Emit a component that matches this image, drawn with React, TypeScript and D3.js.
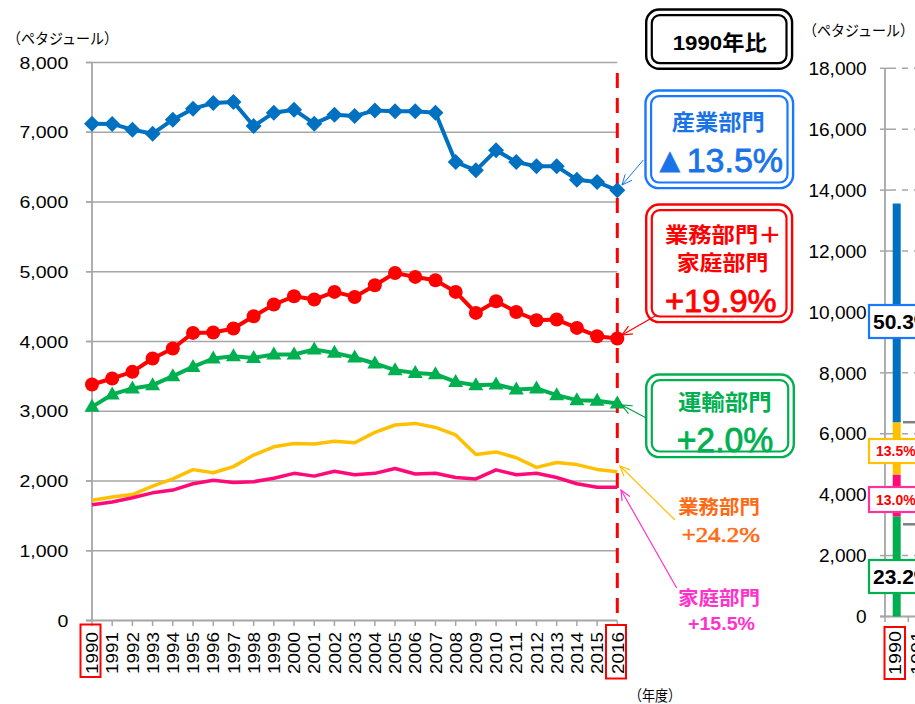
import React from 'react';
import * as d3 from 'd3';

const years = ["1990","1991","1992","1993","1994","1995","1996","1997","1998","1999","2000","2001","2002","2003","2004","2005","2006","2007","2008","2009","2010","2011","2012","2013","2014","2015","2016"];
const industry = [7123,7120,7037,6980,7180,7338,7418,7433,7089,7281,7324,7123,7252,7232,7313,7300,7300,7281,6573,6454,6741,6573,6511,6511,6320,6287,6168];
const bizHome = [3384,3470,3565,3756,3900,4123,4129,4186,4362,4530,4649,4602,4711,4639,4807,4983,4926,4878,4711,4410,4577,4424,4305,4315,4195,4076,4043];
const transport = [3063,3241,3327,3374,3503,3636,3756,3789,3765,3814,3814,3885,3837,3771,3685,3589,3550,3532,3421,3374,3384,3312,3327,3231,3159,3149,3112];
const business = [1724,1770,1805,1926,2030,2163,2119,2206,2372,2490,2539,2532,2571,2549,2697,2803,2826,2768,2661,2380,2417,2334,2195,2265,2235,2166,2133];
const household = [1660,1700,1760,1830,1870,1960,2010,1980,1990,2040,2110,2070,2140,2090,2110,2180,2100,2110,2050,2030,2160,2090,2110,2050,1960,1910,1910];
const leftTicks = [0,1000,2000,3000,4000,5000,6000,7000,8000];
const rightTicks = [0,2000,4000,6000,8000,10000,12000,14000,16000,18000];
const stackNames = ["運輸部門","家庭部門","業務部門","産業部門"];
const stack1990 = [3290,1370,1720,7180];
const stackShares = ["23.2%","13.0%","13.5%","50.3%"];
const rightYears = ["1990","1991"];

const SANS = "'Liberation Sans', Arial, 'Noto Sans CJK JP', sans-serif";
const JP = "'Noto Sans CJK JP', 'Liberation Sans', sans-serif";
const SERIF = "'Liberation Serif', 'Times New Roman', serif";

const C = {
  blue: '#0070c0', red: '#ff0000', green: '#00b050', yellow: '#ffc000', pink: '#ff0a78',
  grid: '#a6a6a6', blueText: '#1a73e8', blueBorder: '#1a78ff', orange: '#ff6a13', pinkText: '#ff33cc'
};

function Arrow({ x1, y1, x2, y2, color, w = 1.2 }: any) {
  const a = Math.atan2(y1 - y2, x1 - x2);
  const L = 11, s = 0.42;
  const b1 = [x2 + L * Math.cos(a + s), y2 + L * Math.sin(a + s)];
  const b2 = [x2 + L * Math.cos(a - s), y2 + L * Math.sin(a - s)];
  return (
    <g stroke={color} strokeWidth={w} fill="none">
      <line x1={x1} y1={y1} x2={x2} y2={y2} />
      <polyline points={`${b1[0]},${b1[1]} ${x2},${y2} ${b2[0]},${b2[1]}`} />
    </g>
  );
}

function DoubleBox({ x0, y0, x1, y1, color }: any) {
  return (
    <g fill="none" stroke={color}>
      <rect x={x0 + 1.2} y={y0 + 1.2} width={x1 - x0 - 2.4} height={y1 - y0 - 2.4} rx={13} strokeWidth={2.4} fill="#fff" />
      <rect x={x0 + 6.8} y={y0 + 6.8} width={x1 - x0 - 13.6} height={y1 - y0 - 13.6} rx={8} strokeWidth={2.2} />
    </g>
  );
}

function Txt({ x, y, text, size, fill = '#000', weight = 'normal', family = JP, len, anchor = 'middle', thick = 0 }: any) {
  return (
    <text x={x} y={y} fontSize={size} fill={fill} fontWeight={weight} fontFamily={family} textAnchor={anchor}
      {...(thick ? { stroke: fill, strokeWidth: thick } : {})}
      {...(len ? { textLength: len, lengthAdjust: 'spacingAndGlyphs' } : {})}>{text}</text>
  );
}

export default function App() {
  const W = 915, H = 704;
  const x = d3.scalePoint<string>().domain(years).range([92, 617.3]);
  const y = d3.scaleLinear().domain([0, 8000]).range([620.5, 62.5]);
  const yR = d3.scaleLinear().domain([0, 18000]).range([616.5, 68.3]);
  const mk = (vals: number[]) => d3.line<number>().x((_, i) => x(years[i])!).y(d => y(d))(vals)!;

  const diamond = (cx: number, cy: number) => `M${cx},${cy - 8}L${cx + 8},${cy}L${cx},${cy + 8}L${cx - 8},${cy}Z`;
  const tri = (cx: number, cy: number) => `M${cx},${cy - 8}L${cx + 7.5},${cy + 5}L${cx - 7.5},${cy + 5}Z`;

  const cum = d3.cumsum(stack1990);
  const stackColors = [C.green, C.pink, C.yellow, C.blue];
  const barX = 892.7, barW = 8;

  const shareBoxes = [
    { y0: 560, y1: 593, border: C.green, color: '#000', size: 21, pad: 4 },
    { y0: 487, y1: 512, border: '#ff3399', color: C.red, size: 14, pad: 7 },
    { y0: 439, y1: 463, border: C.yellow, color: C.red, size: 14, pad: 7 },
    { y0: 305, y1: 338, border: C.blueBorder, color: '#000', size: 21, pad: 4 },
  ];

  return (
    <svg width={W} height={H} style={{ position: 'absolute', left: 0, top: 0, background: '#fff' }}>
      <rect x={0} y={0} width={W} height={H} fill="#fff" />
      {/* left axis title */}
      <Txt x={7} y={44} text="（ペタジュール）" size={15} anchor="start" len={111} />

      {/* left gridlines */}
      {leftTicks.map(t => (
        <g key={t}>
          {t > 0 && <line x1={86} x2={617.3} y1={y(t)} y2={y(t)} stroke={C.grid} strokeWidth={1.5} />}
          <line x1={86} x2={92} y1={y(t)} y2={y(t)} stroke={C.grid} strokeWidth={1.5} />
          <text transform={`translate(68.3,${y(t) + 6}) scale(1.22,1)`} textAnchor="end" fontSize={16} fontFamily={SANS} fill="#000">{d3.format(',')(t)}</text>
        </g>
      ))}
      <line x1={92} x2={92} y1={62.5} y2={620.5} stroke={C.grid} strokeWidth={1.8} />
      <line x1={86} x2={617.3} y1={620.5} y2={620.5} stroke={C.grid} strokeWidth={1.8} />
      {years.map(yr => (
        <g key={yr}>
          <line x1={x(yr)!} x2={x(yr)!} y1={620.5} y2={626} stroke={C.grid} strokeWidth={1.5} />
          <text transform={`translate(${x(yr)! + 6.2},632) rotate(-90)`} textAnchor="end" fontSize={17} fontFamily={SANS}
            textLength={42} lengthAdjust="spacingAndGlyphs">{yr}</text>
        </g>
      ))}
      <rect x={80.5} y={624.5} width={20} height={52.5} fill="none" stroke={C.red} strokeWidth={2} />
      <rect x={606} y={625} width={20} height={53.5} fill="none" stroke={C.red} strokeWidth={2} />
      <Txt x={629} y={701} text="（年度）" size={15} anchor="start" len={52} />

      {/* dashed reference line */}
      <line x1={617.3} x2={617.3} y1={73} y2={620.5} stroke={C.red} strokeWidth={3} strokeDasharray="15 10" />

      {/* series */}
      <path d={mk(business)} fill="none" stroke={C.yellow} strokeWidth={3.5} strokeLinejoin="round" />
      <path d={mk(household)} fill="none" stroke={C.pink} strokeWidth={3.5} strokeLinejoin="round" />
      <path d={mk(transport)} fill="none" stroke={C.green} strokeWidth={4} strokeLinejoin="round" />
      {transport.map((v, i) => <path key={i} d={tri(x(years[i])!, y(v))} fill={C.green} />)}
      <path d={mk(bizHome)} fill="none" stroke={C.red} strokeWidth={4} strokeLinejoin="round" />
      {bizHome.map((v, i) => <circle key={i} cx={x(years[i])!} cy={y(v)} r={7} fill={C.red} />)}
      <path d={mk(industry)} fill="none" stroke={C.blue} strokeWidth={4} strokeLinejoin="round" />
      {industry.map((v, i) => <path key={i} d={diamond(x(years[i])!, y(v))} fill={C.blue} />)}

      {/* callouts */}
      <DoubleBox x0={645} y0={8.3} x1={793.3} y1={70} color="#000" />
      <Txt x={719.7} y={49.5} text="1990年比" size={21} weight="bold" family={SANS} len={94} />

      <DoubleBox x0={644.3} y0={89.3} x1={794.3} y1={189.3} color={C.blueBorder} />
      <Txt x={718.3} y={129.5} text="産業部門" size={22} weight="bold" fill={C.blueText} len={93} />
      <Txt x={718} y={171.7} text="▲13.5%" size={34} fill={C.blueText} family={SANS} len={130} thick={0.8} />
      <Arrow x1={643.3} y1={160} x2={622} y2={185} color={C.blueText} w={1} />

      <DoubleBox x0={645} y0={203.3} x1={793.3} y1={323.3} color={C.red} />
      <Txt x={723.3} y={241.8} text="業務部門＋" size={21} weight="bold" fill={C.red} len={116.7} />
      <Txt x={722.5} y={270} text="家庭部門" size={21} weight="bold" fill={C.red} len={91.7} />
      <Txt x={720.8} y={311.7} text="+19.9%" size={32} fill={C.red} family={SANS} len={111.7} thick={0.8} />
      <Arrow x1={657} y1={315} x2={622} y2={335} color={C.red} w={1.2} />

      <DoubleBox x0={645} y0={373.3} x1={795} y1={458.3} color={C.green} />
      <Txt x={724.8} y={410} text="運輸部門" size={22} weight="bold" fill={C.green} len={93.7} />
      <Txt x={725} y={451.5} text="+2.0%" size={35} fill={C.green} family={SANS} len={96.7} thick={0.8} />
      <Arrow x1={646.7} y1={418.3} x2={621.7} y2={405} color="#00a040" w={1.2} />

      <Txt x={719} y={514} text="業務部門" size={19} weight="bold" fill={C.orange} len={81.7} />
      <Txt x={720.8} y={541.7} text="+24.2%" size={22} fill={C.orange} family={SERIF} len={78.3} thick={0.6} />
      <Arrow x1={675} y1={520} x2={620} y2={466} color={C.yellow} w={1.2} />

      <Txt x={719} y={605} text="家庭部門" size={19} weight="bold" fill={C.pinkText} len={82} />
      <Txt x={721.5} y={630} text="+15.5%" size={18} weight="bold" fill={C.pinkText} family={SANS} len={67} />
      <Arrow x1={676.7} y1={588} x2={621} y2={490} color={C.pinkText} w={1.2} />

      {/* right panel */}
      <Txt x={803} y={36} text="（ペタジュール）" size={15} anchor="start" len={111} />
      {rightTicks.map(t => (
        <g key={t}>
          {t > 0 && <line x1={890} x2={915} y1={yR(t)} y2={yR(t)} stroke={C.grid} strokeWidth={1.5} strokeDasharray="6 6" />}
          <line x1={880} x2={890} y1={yR(t)} y2={yR(t)} stroke={C.grid} strokeWidth={1.5} />
          <text transform={`translate(866.7,${yR(t) + 6.7}) scale(1.06,1)`} textAnchor="end" fontSize={18} fontFamily={SANS} fill="#000">{d3.format(',')(t)}</text>
        </g>
      ))}
      <line x1={885} x2={885} y1={68.3} y2={616.5} stroke={C.grid} strokeWidth={1.8} />
      <line x1={880} x2={915} y1={616.5} y2={616.5} stroke={C.grid} strokeWidth={1.8} />
      <line x1={885} x2={885} y1={616.5} y2={622} stroke={C.grid} strokeWidth={1.5} />
      <line x1={908.3} x2={908.3} y1={616.5} y2={622} stroke={C.grid} strokeWidth={1.5} />
      {stack1990.map((v, i) => (
        <rect key={stackNames[i]} x={barX} width={barW} y={yR(cum[i])} height={yR(cum[i] - v) - yR(cum[i])} fill={stackColors[i]} />
      ))}
      <line x1={903} x2={915} y1={yR(cum[2])} y2={yR(cum[2])} stroke="#808080" strokeWidth={2.5} />
      <line x1={903} x2={915} y1={yR(cum[0]) + 8} y2={yR(cum[0]) + 8} stroke="#808080" strokeWidth={2.5} />
      {shareBoxes.map((b, i) => (
        <g key={stackShares[i]}>
          <rect x={869} y={b.y0} width={60} height={b.y1 - b.y0} fill="#fff" stroke={b.border} strokeWidth={2.2} />
          <text x={869 + b.pad} y={(b.y0 + b.y1) / 2 + b.size * 0.36} fontSize={b.size} fontWeight="bold" fill={b.color} fontFamily={SANS}>{stackShares[i]}</text>
        </g>
      ))}
      {rightYears.map((yr, i) => (
        <text key={yr} transform={`translate(${900.5 + i * 22.5},631) rotate(-90)`} textAnchor="end" fontSize={17} fontFamily={SANS}
          textLength={44} lengthAdjust="spacingAndGlyphs">{yr}</text>
      ))}
      <rect x={884.5} y={627} width={20.5} height={52} fill="none" stroke={C.red} strokeWidth={2} />
    </svg>
  );
}
